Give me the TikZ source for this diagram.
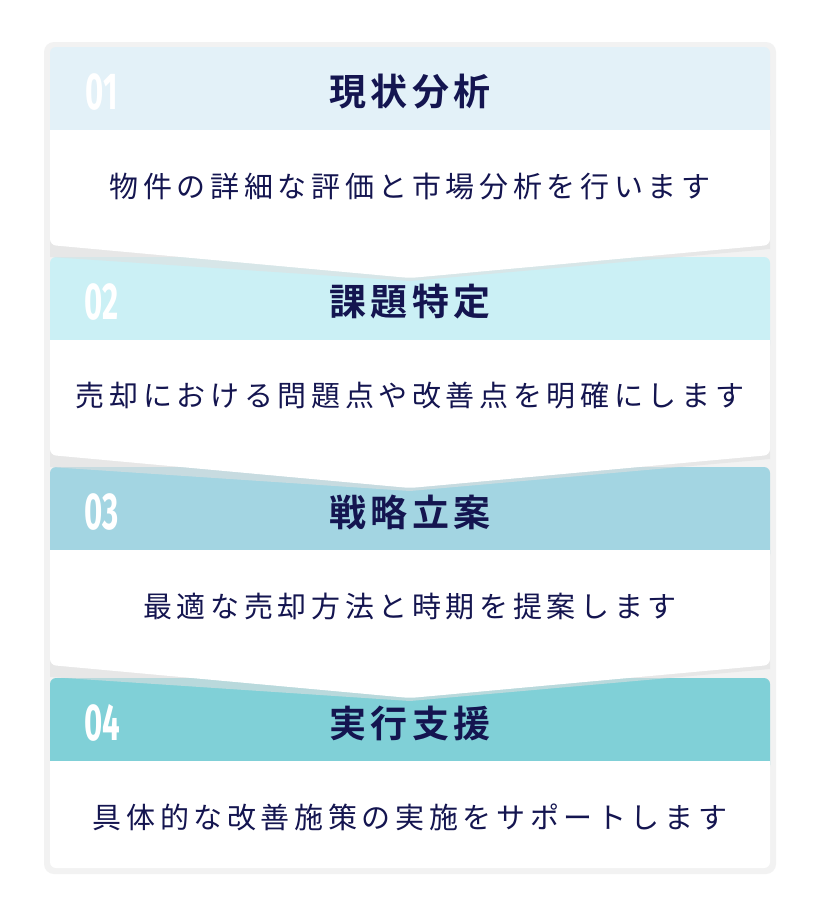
\documentclass[tikz,border=0pt]{standalone}
\usepackage{fontspec}
\newfontfamily\jpb[LetterSpace=12]{Noto Sans CJK JP Bold}
\newfontfamily\jpr[LetterSpace=16]{Noto Sans CJK JP}
\newfontfamily\numf{Fira Sans}
\definecolor{navy}{HTML}{141550}
\definecolor{hA}{HTML}{E3F1F8}
\definecolor{hB}{HTML}{CBF0F5}
\definecolor{hC}{HTML}{A3D5E2}
\definecolor{hD}{HTML}{80D0D7}
\tikzset{
 title/.style={text=navy,font=\jpb\fontsize{37}{40}\selectfont,anchor=center},
 body/.style={text=navy,font=\jpr\fontsize{29}{32}\selectfont,anchor=center},
 num/.style={text=white,font=\numf\bfseries\fontsize{52}{56}\selectfont,xscale=0.6,anchor=center},
}
\newcommand\card[6]{% #1 top, #2 color, #3 num, #4 title, #5 body, #6 chevron(1/0)
 \pgfmathsetmacro\hb{#1+83}\pgfmathsetmacro\bb{#1+198}\pgfmathsetmacro\tp{#1+231}
 \fill[#2,rounded corners=6] (50,#1) rectangle (770,\hb+10);
 \ifnum#6=1
  \fill[black!12,opacity=0.6] (50,\hb) -- (770,\hb) -- (770,\bb+4) -- (410,\tp+3) -- (50,\bb+12) -- cycle;
  \fill[white,rounded corners=6] (50,\hb) -- (770,\hb) -- (770,\bb) -- (410,\tp) -- (50,\bb) -- cycle;
 \else
  \fill[white,rounded corners=6] (50,\hb) -- (770,\hb) -- (770,\bb-8) -- (50,\bb-8) -- cycle;
 \fi
 \fill[white] (50,\hb) rectangle (770,\hb+10);
 \node[num] (n#3) at (102,#1+45) {#3};
 \node[title] (t#3) at (410,#1+45) {#4};
 \node[body] (b#3) at (410,#1+139) {#5};
}
\begin{document}
\begin{tikzpicture}[x=1pt,y=-1pt]
\useasboundingbox (0,0) rectangle (818,918);
\fill[white] (0,0) rectangle (818,918);
\fill[black!5,rounded corners=10] (44,42) rectangle (776,874);
\card{678}{hD}{04}{実行支援}{具体的な改善施策の実施をサポートします}{0}
\card{467}{hC}{03}{戦略立案}{最適な売却方法と時期を提案します}{1}
\card{257}{hB}{02}{課題特定}{売却における問題点や改善点を明確にします}{1}
\card{47}{hA}{01}{現状分析}{物件の詳細な評価と市場分析を行います}{1}
\end{tikzpicture}
\end{document}
